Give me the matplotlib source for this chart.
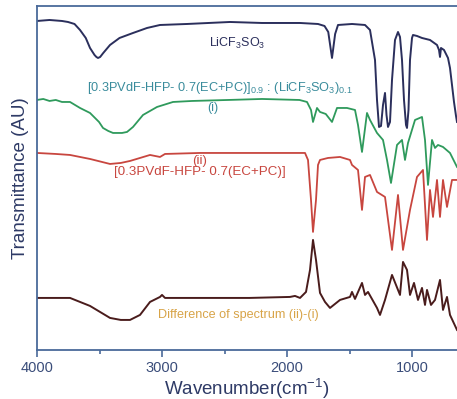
import matplotlib
matplotlib.use("Agg")
import matplotlib.pyplot as plt
from matplotlib.ticker import MultipleLocator

plt.rcParams['font.family'] = ['Liberation Sans', 'DejaVu Sans']
plt.rcParams['mathtext.fontset'] = 'custom'
plt.rcParams['mathtext.rm'] = 'Liberation Sans'
plt.rcParams['mathtext.it'] = 'Liberation Sans:italic'

# FTIR spectra (wavenumber cm-1, transmittance in arbitrary units)
salt_wn = [4000, 3900, 3800, 3752, 3700, 3656, 3610, 3576, 3540, 3525, 3512, 3495, 3470, 3416,
           3340, 3232, 3120, 3016, 2800, 2456, 2200, 1896, 1752, 1700, 1670, 1640, 1615, 1592,
           1480, 1376, 1336, 1296, 1280, 1264, 1248, 1232, 1216, 1204, 1192, 1176, 1160, 1136,
           1112, 1096, 1080, 1064, 1048, 1040, 1028, 1016, 1000, 992, 960, 920, 856, 800, 784,
           776, 768, 744, 712, 696, 680, 664, 648, 640]
salt_t = [329, 330, 329, 328, 326, 320, 312, 302, 295, 293, 292, 293, 297, 305,
          312, 317, 322, 325, 326, 328, 327, 327, 326, 324, 318, 292, 316, 325,
          326, 325, 320, 290, 250, 223, 224, 245, 257, 235, 223, 228, 270, 310,
          318, 313, 290, 250, 225, 222, 240, 290, 312, 315, 314, 312, 310, 305, 300,
          293, 302, 300, 292, 282, 265, 248, 234, 228]

blend_wn = [4000, 3950, 3900, 3850, 3800, 3736, 3656, 3576, 3504, 3472, 3430, 3392, 3320, 3280,
            3232, 3152, 3040, 2912, 2760, 2472, 2200, 1900, 1840, 1808, 1792, 1760, 1736, 1690,
            1640, 1600, 1520, 1456, 1432, 1400, 1360, 1336, 1280, 1232, 1200, 1168, 1120, 1080,
            1056, 1032, 976, 920, 896, 872, 840, 816, 792, 752, 696, 640]
blend_t = [250, 251, 249, 250, 248, 248, 242, 237, 228, 222, 219, 217, 217, 218,
           223, 235, 243, 248, 249, 250, 251, 250, 248, 240, 228, 242, 238, 236,
           228, 242, 242, 240, 225, 198, 237, 230, 217, 210, 190, 167, 205, 210,
           190, 207, 230, 233, 210, 165, 210, 202, 205, 203, 197, 183]

gel_wn = [4000, 3850, 3736, 3576, 3416, 3330, 3256, 3096, 3016, 2976, 2696, 2300, 1856, 1832,
          1808, 1792, 1768, 1752, 1736, 1672, 1576, 1496, 1480, 1432, 1400, 1376, 1336, 1280,
          1216, 1160, 1112, 1072, 1016, 960, 912, 880, 856, 832, 800, 776, 752, 720, 680, 640]
gel_t = [197, 196, 195, 191, 186, 187, 189, 195, 193, 196, 197, 197, 197, 190,
         150, 118, 150, 185, 190, 192, 193, 190, 185, 180, 140, 173, 175, 158,
         153, 100, 155, 100, 140, 173, 180, 110, 160, 133, 170, 133, 170, 143, 170, 170]

diff_wn = [4000, 3850, 3736, 3576, 3416, 3330, 3256, 3176, 3096, 3016, 3000, 2976, 2696, 2300,
           1976, 1936, 1896, 1848, 1816, 1792, 1768, 1736, 1696, 1656, 1576, 1496, 1480, 1456,
           1400, 1376, 1352, 1280, 1256, 1216, 1160, 1128, 1096, 1072, 1040, 1016, 984, 952,
           920, 896, 880, 848, 816, 776, 752, 720, 696, 640]
diff_t = [52, 52, 52, 44, 32, 30, 30, 35, 48, 53, 55, 52, 52, 52,
          53, 54, 52, 58, 80, 110, 90, 57, 48, 42, 50, 53, 58, 51,
          67, 55, 58, 42, 35, 50, 75, 65, 55, 88, 80, 55, 67, 50,
          62, 45, 60, 45, 50, 70, 40, 53, 35, 20]

xticks = [4000, 3000, 2000, 1000]

fig = plt.figure(figsize=(4.57, 3.99), dpi=100)
ax = fig.add_axes([0.081, 0.123, 0.919, 0.862])

ax.plot(salt_wn, salt_t, color='#2b2f5c', lw=1.4)
ax.plot(blend_wn, blend_t, color='#2f9a5c', lw=1.3)
ax.plot(gel_wn, gel_t, color='#c8463f', lw=1.3)
ax.plot(diff_wn, diff_t, color='#4a1c1c', lw=1.4)

ax.text(2400, 307, 'LiCF$_3$SO$_3$', color='#2b2f5c', fontsize=9, ha='center', va='center')
ax.text(2536, 262, '[0.3PVdF-HFP- 0.7(EC+PC)]$_{0.9}$ : (LiCF$_3$SO$_3$)$_{0.1}$',
        color='#3a8c9c', fontsize=9.2, ha='center', va='center')
ax.text(2592, 242, '(i)', color='#3a8c9c', fontsize=9, ha='center', va='center')
ax.text(2696, 189, '(ii)', color='#c8463f', fontsize=9.5, ha='center', va='center')
ax.text(2696, 178, '[0.3PVdF-HFP- 0.7(EC+PC)]', color='#c8463f', fontsize=9.6,
        ha='center', va='center')
ax.text(2392, 35, 'Difference of spectrum (ii)-(i)', color='#d8a448', fontsize=9.1,
        ha='center', va='center')

ax.set_xlim(4000, 640)
ax.set_ylim(0, 344)
ax.set_xticks(xticks)
ax.set_xticklabels([str(t) for t in xticks])
ax.xaxis.set_minor_locator(MultipleLocator(500))
ax.set_yticks([])

spine_c = '#4a6a9a'
for s in ['left', 'top', 'bottom']:
    ax.spines[s].set_color(spine_c)
    ax.spines[s].set_linewidth(1.3)
ax.spines['right'].set_visible(False)
ax.tick_params(axis='x', which='major', direction='out', length=5, width=1.2,
               color=spine_c, labelsize=10.5, labelcolor='#3a4d7a', pad=3)
ax.tick_params(axis='x', which='minor', direction='out', length=3, width=1.2, color=spine_c)

ax.set_xlabel('Wavenumber(cm$^{-1}$)', fontsize=13.5, color='#2e3a66', labelpad=1)
ax.set_ylabel('Transmittance (AU)', fontsize=13.5, color='#2e3a66', labelpad=6)

fig.savefig('out.png', dpi=100)
